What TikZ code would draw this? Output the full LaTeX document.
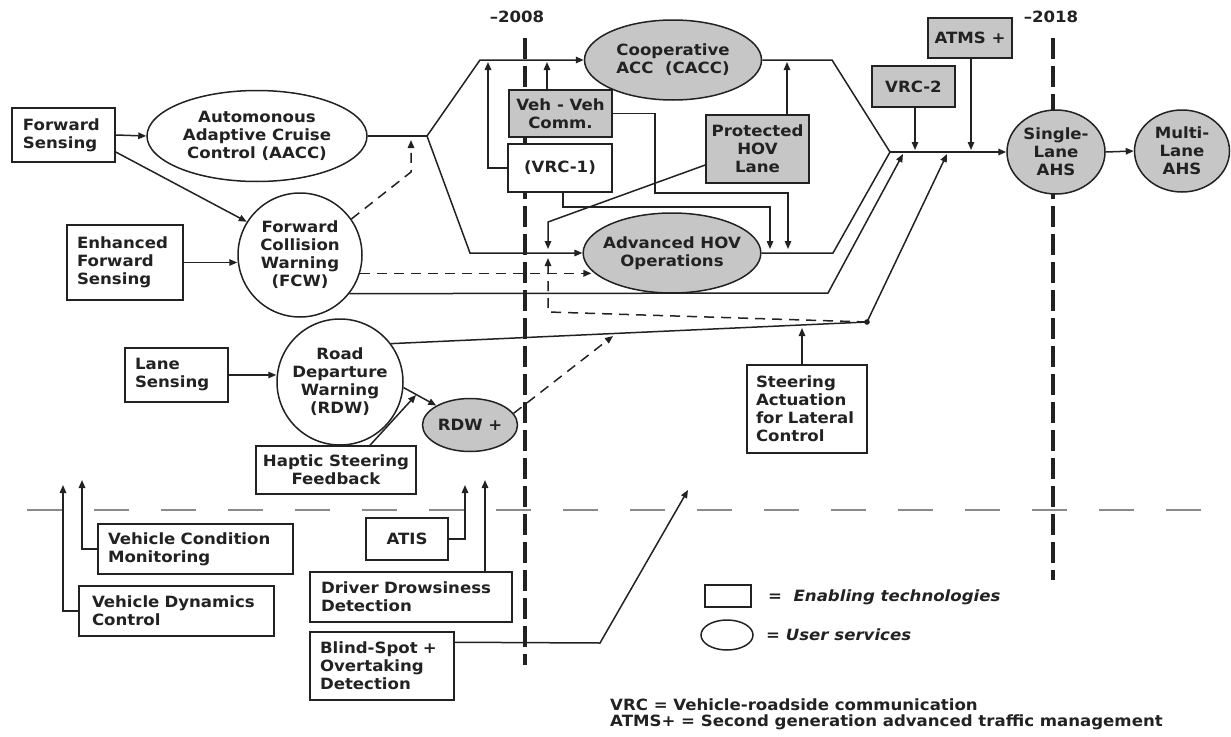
\documentclass[tikz,border=0pt]{standalone}
\usepackage{fontspec}
\setmainfont{DejaVu Sans}[FakeStretch=1.07]
\usetikzlibrary{arrows.meta,shapes.geometric,calc}
\definecolor{ink}{HTML}{222222}
\definecolor{shade}{HTML}{C6C6C6}
\definecolor{rule}{HTML}{8A8A8A}
\begin{document}
\begin{tikzpicture}[x=1pt,y=-1pt,
  lbl/.style={font=\fontsize{15.5}{18}\selectfont\bfseries, text=ink},
  tbox/.style={lbl, draw=ink, line width=1.5, fill=white, inner xsep=4, inner ysep=0, align=left},
  gbox/.style={tbox, fill=shade, align=center, inner xsep=2},
  cbox/.style={tbox, align=center, inner xsep=2},
  svc/.style={lbl, ellipse, draw=ink, line width=1.5, fill=white, inner sep=-6, align=center},
  gsvc/.style={svc, fill=shade},
  rnd/.style={lbl, circle, draw=ink, line width=1.5, fill=white, inner sep=-4, align=center},
  conn/.style={draw=ink, line width=1.5},
  arr/.style={conn, -{Triangle[length=8,width=6.5]}},
  dsh/.style={dash pattern=on 10 off 7},
  era/.style={draw=ink, line width=3.2, dash pattern=on 21 off 7},
  note/.style={font=\fontsize{15.5}{17}\selectfont\bfseries, text=ink, inner sep=0, anchor=west}
]
\useasboundingbox (0,0) rectangle (1231,736);

% time lines
\draw[era] (525,38) -- (525,665);
\draw[era] (1053,38) -- (1053,580);
\draw[rule, line width=2.2, dash pattern=on 35 off 32] (27,510) -- (1212,510);
\node[lbl] (y2008) at (517,17) {–2008};
\node[lbl] (y2018) at (1051,17) {–2018};

% enabling technologies (boxes)
\node[tbox, minimum width=103, minimum height=54, inner xsep=11, text width=81] (fs) at (63.5,135) {Forward\\Sensing};
\node[tbox, minimum width=116, minimum height=75, inner xsep=10, text width=96] (efs) at (125,262.5) {Enhanced\\Forward\\Sensing};
\node[tbox, minimum width=103, minimum height=54, inner xsep=10, text width=83] (ls) at (176.5,375) {Lane\\Sensing};
\node[cbox, minimum width=160, minimum height=48] (hsf) at (336,470) {Haptic Steering\\Feedback};
\node[tbox, minimum width=195, minimum height=50, inner xsep=10, text width=175] (vcm) at (195.5,549) {Vehicle Condition\\Monitoring};
\node[tbox, minimum width=195, minimum height=50, inner xsep=13, text width=169] (vdc) at (176.5,611) {Vehicle Dynamics\\Control};
\node[cbox, minimum width=82, minimum height=42] (atis) at (407,539) {ATIS};
\node[tbox, minimum width=202, minimum height=50, inner xsep=11, text width=180] (ddd) at (411,597) {Driver Drowsiness\\Detection};
\node[tbox, minimum width=144, minimum height=68, inner xsep=10, text width=124] (bso) at (382,666) {Blind-Spot +\\Overtaking\\Detection};
\node[tbox, minimum width=120, minimum height=88, inner xsep=9, text width=102] (sa) at (807,409) {Steering\\Actuation\\for Lateral\\Control};
\node[gbox, minimum width=103, minimum height=47] (vv) at (560.5,113.5) {Veh - Veh\\Comm.};
\node[cbox, minimum width=104, minimum height=48] (vrc1) at (560,168) {(VRC-1)};
\node[gbox, minimum width=103, minimum height=68] (phov) at (757.5,149) {Protected\\HOV\\Lane};
\node[gbox, minimum width=83, minimum height=41] (vrc2) at (913.5,86.5) {VRC-2};
\node[gbox, minimum width=84, minimum height=40] (atms) at (970,38) {ATMS +};

% user services (ellipses)
\node[svc, minimum width=220, minimum height=91] (aacc) at (257,136) {Automonous\\Adaptive Cruise\\Control (AACC)};
\node[rnd, minimum size=124] (fcw) at (300,255) {Forward\\Collision\\Warning\\(FCW)};
\node[rnd, minimum size=126] (rdw) at (340,382) {Road\\Departure\\Warning\\(RDW)};
\node[gsvc, minimum width=95, minimum height=53] (rdwp) at (470,425) {RDW +};
\node[gsvc, minimum width=177, minimum height=80] (cacc) at (673,60) {Cooperative\\ACC\ \ (CACC)};
\node[gsvc, minimum width=177, minimum height=80] (hov) at (672,253) {Advanced HOV\\Operations};
\node[gsvc, minimum width=98, minimum height=84] (slahs) at (1056,152) {Single-\\Lane\\AHS};
\node[gsvc, minimum width=95, minimum height=82] (mlahs) at (1182,151) {Multi-\\Lane\\AHS};

% junctions
\coordinate (j1) at (427,136);
\coordinate (j2) at (890,152);
\coordinate (dot) at (867,322);

% left group
\draw[arr] (fs.east) -- (aacc.west);
\draw[arr] ($(fs.east)+(0,17)$) -- (fcw.148);
\draw[arr] (efs.east) -- (efs.east -| fcw.west);
\draw[arr, dsh] (fcw.35) -- (411,172) -- (411,140);
\draw[arr] (ls.east) -- (ls.east -| rdw.west);
\draw[arr] (rdw.-5) -- (rdwp.150);
\draw[arr] ($(hsf.north)+(34,0)$) -- (416,395);
\draw[arr, dsh] (rdwp.15) -- (613,336);

% to CACC / HOV
\draw[conn] (aacc.east) -- (j1);
\draw[arr] (j1) -- (480,60) -- (cacc.west);
\draw[arr] (j1) -- (470,253) -- (hov.west);
\draw[arr] (vrc1.west) -| (488,62);
\draw[arr] ($(vv.north)+(-13.5,0)$) -- (547,62);
\draw[arr] (vv.east) -| (655,193) -| (788,249);
\draw[arr] ($(vrc1.south)+(3,0)$) |- (770,207) -- (770,249);
\draw[arr] ($(phov.west)+(0,16)$) -- (548,222) -- (548,249);
\draw[arr] ($(phov.north)+(29.5,0)$) -- (787,62);
\draw[arr, dsh] (fcw.-17) -- ($(hov.west |- fcw.-17)+(9,0)$);

% to AHS
\draw[conn] (cacc.east) -- (832,60) -- (j2);
\draw[conn] (hov.east) -- (833,253) -- (j2);
\draw[arr] (j2) -- (slahs.west);
\draw[arr] (fcw.-38) -- (828,293) -- (903,154);
\draw[conn] (rdw.37) -- (dot);
\draw[arr] (dot) -- (947,154);
\fill[ink] (dot) circle (2.8);
\draw[arr] ($(sa.north)+(-5,0)$) -- (802,328);
\draw[arr, dsh] (dot) -- (548,312) -- (548,258);
\draw[arr] ($(vrc2.south)+(1.5,0)$) -- (915,150);
\draw[arr] ($(atms.south)+(1,0)$) -- (971,150);
\draw[arr] (slahs.east) -- (mlahs.west);

% lower group
\draw[arr] (vdc.west) -| (63,485);
\draw[arr] (vcm.west) -| (82,480);
\draw[arr] (atis.east) -| (465,485);
\draw[arr] ($(ddd.north)+(74,0)$) -- (485,480);
\draw[arr] ($(bso.north east)+(0,11)$) -- (600,643) -- (688,490);

% legend
\node[draw=ink, line width=1.5, minimum width=46, minimum height=22, inner sep=0] (legbox) at (728,596) {};
\node[note, font=\fontsize{15.5}{17}\selectfont\bfseries\itshape] (legt1) at (768,597) {=\ \ Enabling technologies};
\node[ellipse, draw=ink, line width=1.5, minimum width=52, minimum height=30, inner sep=0] (legell) at (727,635) {};
\node[note, font=\fontsize{15.5}{17}\selectfont\bfseries\itshape] (legt2) at (766,635) {= User services};
\node[note] (fn1) at (610,705) {VRC = Vehicle-roadside communication};
\node[note] (fn2) at (610,722) {ATMS+ = Second generation advanced traffic management};
\end{tikzpicture}
\end{document}
